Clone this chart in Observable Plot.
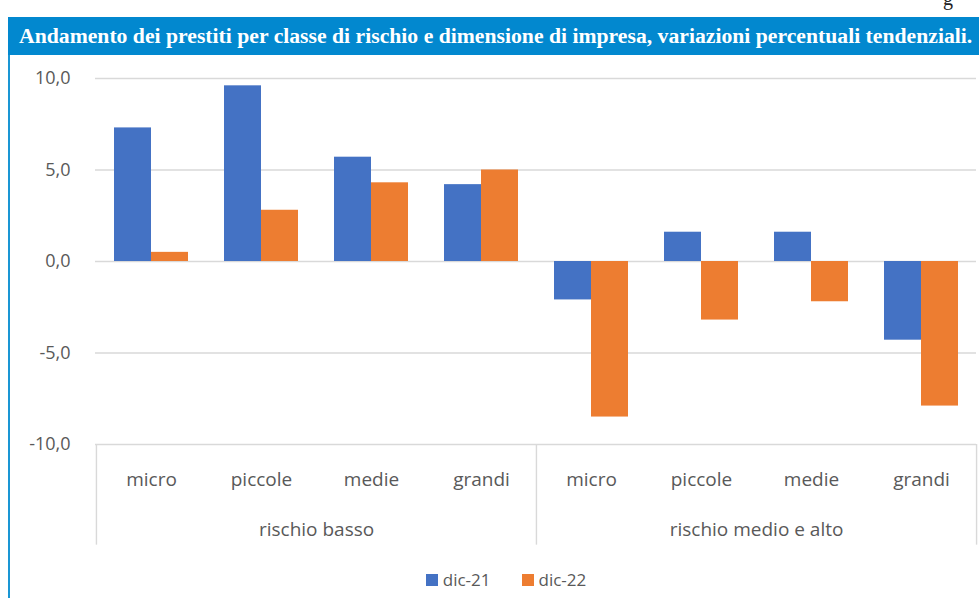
<!DOCTYPE html>
<html>
<head>
<meta charset="utf-8">
<script src="https://cdn.jsdelivr.net/npm/d3@7"></script>
<script src="https://cdn.jsdelivr.net/npm/@observablehq/plot@0.6"></script>
<style>
  html, body { margin: 0; padding: 0; background: #fff; width: 979px; height: 598px; overflow: hidden; }
  #title { position: absolute; left: 8px; top: 17px; width: 971px; height: 38px; background: #0288cf;
    color: #fff; font-family: "Liberation Serif", "DejaVu Serif", serif; font-weight: bold; font-size: 21.7px;
    line-height: 38px; padding-left: 11px; box-sizing: border-box; white-space: nowrap; overflow: hidden; }
  #leftline { position: absolute; left: 8px; top: 55px; width: 2px; height: 543px; background: #1a96d4; }
  #corner { position: absolute; left: 943px; top: -13px; font-family: "Liberation Serif", serif; font-size: 20px; color: #222; }
  #chart { position: absolute; left: 0; top: 55px; }
  #legend { position: absolute; left: 0; top: 563px; width: 1012px; display: flex; justify-content: center; }
  #legend [class$="-swatch"] { margin-right: 31px !important; }
  #legend [class$="-swatch"]:last-child { margin-right: 0 !important; }
  #legend [class$="-swatch"] > svg { margin-right: 5px !important; }
</style>
</head>
<body>
<div id="corner">g</div>
<div id="title">Andamento dei prestiti per classe di rischio e dimensione di impresa, variazioni percentuali tendenziali.</div>
<div id="leftline"></div>
<div id="chart"></div>
<div id="legend"></div>
<script>
const groups = ["rischio basso", "rischio medio e alto"];
const sizes = ["micro", "piccole", "medie", "grandi"];
const series = ["dic-21", "dic-22"];
const dic21 = [7.3, 9.6, 5.7, 4.2, -2.1, 1.6, 1.6, -4.3];
const dic22 = [0.5, 2.8, 4.3, 5.0, -8.5, -3.2, -2.2, -7.9];
const yTicks = [-10, -5, 0, 5, 10];
const colors = ["#4472c4", "#ed7d31"];

const keys = groups.flatMap(g => sizes.map(s => g + "|" + s));
const rows21 = keys.map((k, i) => ({key: k, value: dic21[i]}));
const rows22 = keys.map((k, i) => ({key: k, value: dic22[i]}));
const groupLabels = groups.map(g => ({key: g + "|" + sizes[1], label: g}));
const sepLeft = groups.map(g => g + "|" + sizes[0]);
const sepRight = [groups[1] + "|" + sizes[3]];

const W = 979, ML = 95, MR = 3;
const half = (W - ML - MR) / keys.length / 2;
const fmt = d => d3.format(".1f")(d).replace(".", ",").replace("\u2212", "-");
const grid = "#d9d9d9";
const txt = "#595959";

const chart = Plot.plot({
  width: W, height: 490,
  marginLeft: ML, marginRight: MR, marginTop: 23, marginBottom: 101,
  x: {domain: keys, padding: 0, axis: null, label: null},
  y: {domain: [-10, 10], axis: null, label: null},
  style: {fontFamily: "'Open Sans', 'Noto Sans', sans-serif", fontSize: "18px", color: txt, background: "transparent"},
  marks: [
    Plot.ruleY(yTicks, {stroke: grid, strokeWidth: 1.4}),
    Plot.barY(rows21, {x: "key", y: "value", fill: colors[0], insetLeft: 18, insetRight: 55}),
    Plot.barY(rows22, {x: "key", y: "value", fill: colors[1], insetLeft: 55, insetRight: 18}),
    Plot.axisY({ticks: yTicks, tickSize: 0, tickPadding: 25, tickFormat: fmt, fontSize: 18, fill: txt, label: null}),
    Plot.axisX({tickSize: 0, tickPadding: 28, tickFormat: k => k.split("|")[1], fontSize: 19, fill: txt, label: null}),
    Plot.ruleX(sepLeft, {x: d => d, dx: -half, y1: -10, y2: -15.5, stroke: grid, strokeWidth: 1.4}),
    Plot.ruleX(sepRight, {x: d => d, dx: half, y1: -10, y2: -15.5, stroke: grid, strokeWidth: 1.4}),
    Plot.text(groupLabels, {x: "key", dx: half, frameAnchor: "bottom", dy: 91, text: "label", fontSize: 19, fill: txt})
  ]
});
document.getElementById("chart").appendChild(chart);

const legend = Plot.legend({
  color: {domain: series, range: colors},
  legend: "swatches",
  swatchSize: 12,
  style: {fontFamily: "'Open Sans', 'Noto Sans', sans-serif", fontSize: "17px", color: txt}
});
document.getElementById("legend").appendChild(legend);
</script>
</body>
</html>
